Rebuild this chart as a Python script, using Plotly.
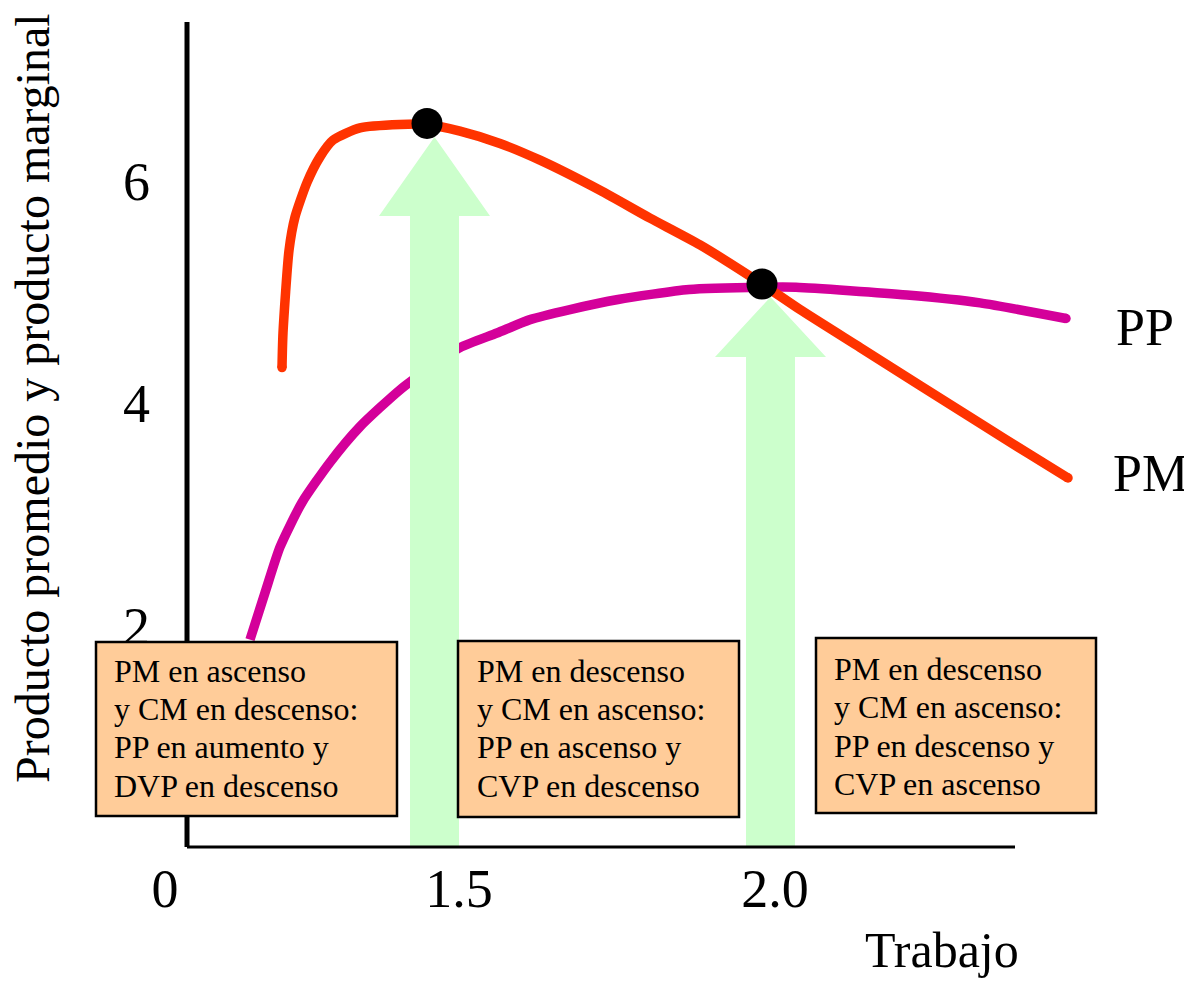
import plotly.graph_objects as go

# ---------------- data (Trabajo in arbitrary units, product in units) ----------------
pm_x = [0.95, 0.96, 1.02, 1.08, 1.20, 1.33, 1.46, 1.73, 2.13, 2.40, 2.73, 3.13, 3.53,
        4.13, 4.63, 5.13, 5.75, 6.13, 6.73, 7.33, 7.93, 8.43, 8.81]
pm_y = [4.35, 4.66, 5.40, 5.70, 6.01, 6.24, 6.39, 6.50, 6.53, 6.53, 6.47, 6.36, 6.21,
        5.94, 5.69, 5.45, 5.10, 4.87, 4.53, 4.19, 3.85, 3.57, 3.36]

pp_x = [0.63, 0.78, 0.93, 1.15, 1.43, 1.73, 2.13, 2.48, 2.73, 3.10, 3.43, 3.83, 4.31,
        5.02, 5.76, 6.09, 7.20, 7.93, 8.79]
pp_y = [1.91, 2.33, 2.74, 3.14, 3.50, 3.82, 4.15, 4.38, 4.53, 4.66, 4.78, 4.87, 4.96,
        5.05, 5.07, 5.07, 5.00, 4.93, 4.79]

dot_x = [2.40, 5.75]
dot_y = [6.54, 5.10]

y_tick_vals = [2, 4, 6]
x_tick_text = ["0", "1.5", "2.0"]
x_tick_vals = [-0.22, 2.72, 5.88]

box_lines = [
    ["PM en ascenso", "y CM en descenso:", "PP en aumento y", "DVP en descenso"],
    ["PM en descenso", "y CM en ascenso:", "PP en ascenso y", "CVP en descenso"],
    ["PM en descenso", "y CM en ascenso:", "PP en descenso y", "CVP en ascenso"],
]

# ---------------- layout helpers (reference pixel -> data/paper, placement only) -------
W, H = 1192, 981
OFF = 8  # page body margin offset
X_ORIGIN_PX, X_UNIT = 187, 100.0
Y6_PX, Y_UNIT = 183.6, 111.49


def px2x(px):
    return (px - X_ORIGIN_PX) / X_UNIT


def py2y(py):
    return 6 - (py - Y6_PX) / Y_UNIT


def fx(px):
    return (px - OFF) / W


def fy(py):
    return 1 - (py - OFF) / H


x_range = [px2x(OFF), px2x(OFF + W)]
y_range = [py2y(OFF + H), py2y(OFF)]
axis_y = py2y(847)

SERIF = "Liberation Serif, Times New Roman, serif"
RED = "#FF3300"
MAGENTA = "#D4009A"
GREEN = "#CCFFCC"
PEACH = "#FFCC99"

fig = go.Figure()

# PP curve (under the arrows)
fig.add_trace(go.Scatter(x=pp_x, y=pp_y, mode="lines",
                         line=dict(color=MAGENTA, width=9.5, shape="spline", smoothing=0.6),
                         hoverinfo="skip", showlegend=False))

# green arrows (between the two curves in drawing order)
arrows = [
    dict(cx=2.475, apex=py2y(137), base=py2y(216), shaft=0.245, head=0.555),
    dict(cx=5.835, apex=py2y(297), base=py2y(357), shaft=0.245, head=0.555),
]
for a in arrows:
    ax = [a["cx"] - a["shaft"], a["cx"] - a["shaft"], a["cx"] - a["head"], a["cx"],
          a["cx"] + a["head"], a["cx"] + a["shaft"], a["cx"] + a["shaft"], a["cx"] - a["shaft"]]
    ay = [axis_y, a["base"], a["base"], a["apex"], a["base"], a["base"], axis_y, axis_y]
    fig.add_trace(go.Scatter(x=ax, y=ay, mode="lines", fill="toself", fillcolor=GREEN,
                             line=dict(width=0, color=GREEN), hoverinfo="skip",
                             showlegend=False))

# PM curve
fig.add_trace(go.Scatter(x=pm_x, y=pm_y, mode="lines",
                         line=dict(color=RED, width=9.5, shape="spline", smoothing=0.6),
                         hoverinfo="skip", showlegend=False))

# rounded line ends (the reference uses round caps)
fig.add_trace(go.Scatter(x=[pm_x[0], pm_x[-1]], y=[pm_y[0], pm_y[-1]], mode="markers",
                         marker=dict(color=RED, size=9.5), hoverinfo="skip", showlegend=False))
fig.add_trace(go.Scatter(x=[pp_x[-1]], y=[pp_y[-1]], mode="markers",
                         marker=dict(color=MAGENTA, size=9.5), hoverinfo="skip",
                         showlegend=False))

# dots
fig.add_trace(go.Scatter(x=dot_x, y=dot_y, mode="markers",
                         marker=dict(color="black", size=31, symbol="circle"),
                         hoverinfo="skip", showlegend=False))

shapes = []
# axis lines
shapes.append(dict(type="line", xref="x", yref="y", x0=0, x1=0, y0=axis_y, y1=py2y(22),
                   line=dict(color="black", width=5), layer="above"))
shapes.append(dict(type="line", xref="x", yref="y", x0=0, x1=px2x(1015), y0=axis_y, y1=axis_y,
                   line=dict(color="black", width=3), layer="above"))

# boxes with text
boxes_px = [(96, 642, 397, 816), (458, 641, 739, 817), (816, 638, 1096, 813)]
text_left_px = [112, 475, 832]
baselines_px = [[681.7, 720, 758.3, 796.7], [681.7, 720, 758.3, 796.7], [680, 718, 757, 795]]
BOX_FS = 32
annotations = []
for (l, t, r, b), tx, bls, lines in zip(boxes_px, text_left_px, baselines_px, box_lines):
    shapes.append(dict(type="rect", xref="x", yref="y", x0=px2x(l), x1=px2x(r),
                       y0=py2y(b), y1=py2y(t), fillcolor=PEACH,
                       line=dict(color="black", width=2.5), layer="above"))
    for bl, line in zip(bls, lines):
        annotations.append(dict(x=px2x(tx), y=py2y(bl - 0.34 * BOX_FS), xref="x", yref="y",
                                text=line, showarrow=False, xanchor="left", yanchor="middle",
                                align="left",
                                font=dict(family=SERIF, size=BOX_FS, color="black")))

# labels
annotations += [
    dict(x=fx(32), y=fy(398), xref="paper", yref="paper",
         text="Producto promedio y producto marginal", textangle=-90, showarrow=False,
         xanchor="center", yanchor="middle", borderpad=0,
         font=dict(family=SERIF, size=48, color="black")),
    dict(x=fx(942), y=fy(950), xref="paper", yref="paper", text="Trabajo",
         showarrow=False, xanchor="center", yanchor="middle",
         font=dict(family=SERIF, size=50, color="black")),
    dict(x=fx(1145), y=fy(327), xref="paper", yref="paper", text="PP",
         showarrow=False, xanchor="center", yanchor="middle",
         font=dict(family=SERIF, size=52, color="black")),
    dict(x=fx(1150), y=fy(474), xref="paper", yref="paper", text="PM",
         showarrow=False, xanchor="center", yanchor="middle",
         font=dict(family=SERIF, size=52, color="black")),
]

fig.update_layout(
    width=W, height=H,
    margin=dict(l=0, r=0, t=0, b=0),
    paper_bgcolor="white", plot_bgcolor="white",
    showlegend=False,
    shapes=shapes,
    annotations=annotations,
    xaxis=dict(range=x_range, anchor="free", position=fy(847), showline=False,
               showgrid=False, zeroline=False, ticks="", tickvals=x_tick_vals,
               ticktext=x_tick_text, ticklabelstandoff=5,
               tickfont=dict(family=SERIF, size=54, color="black"), fixedrange=True),
    yaxis=dict(range=y_range, anchor="free", position=fx(187), showline=False,
               showgrid=False, zeroline=False, ticks="", tickvals=y_tick_vals,
               ticklabelstandoff=37, ticklabelshift=-3,
               tickfont=dict(family=SERIF, size=54, color="black"), fixedrange=True),
)

fig.write_html("out.html")
